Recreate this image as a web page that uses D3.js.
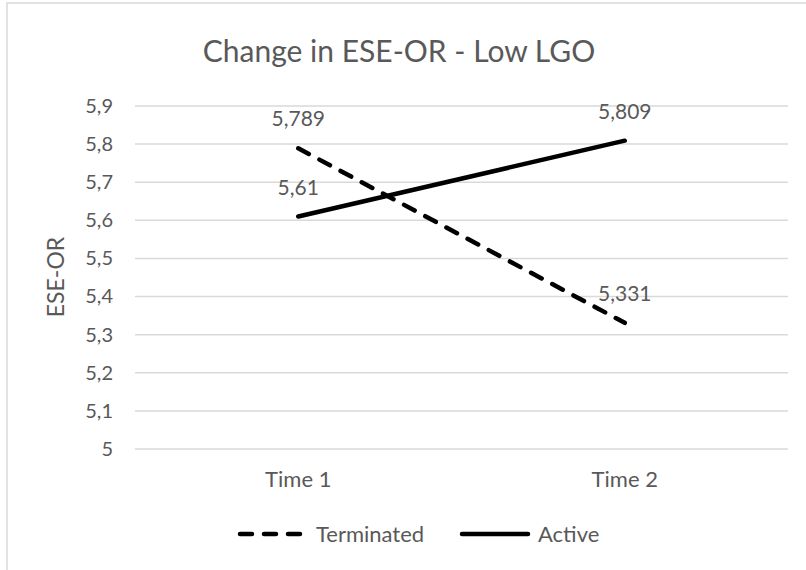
<!DOCTYPE html>
<html>
<head>
<meta charset="utf-8">
<script src="https://cdn.jsdelivr.net/npm/d3@7"></script>
<style>
  body { margin: 0; background: #fff; }
  text { font-family: Lato, "Open Sans", sans-serif; fill: #595959; }
</style>
</head>
<body>
<div class="chart"></div>
<script>
// data
var times = ["Time 1", "Time 2"];
var terminated = [5.789, 5.331];
var active = [5.61, 5.809];
var yTicks = [5, 5.1, 5.2, 5.3, 5.4, 5.5, 5.6, 5.7, 5.8, 5.9];
var seriesNames = ["Terminated", "Active"];

var width = 806,
    height = 570;

var svg = d3.select(".chart").append("svg")
  .attr("width", width)
  .attr("height", height);

// chart frame
svg.append("rect")
  .attr("x", 7).attr("y", 3)
  .attr("width", 820).attr("height", 600)
  .style("fill", "none")
  .style("stroke", "#d9d9d9")
  .style("stroke-width", 1.5);

var x = d3.scaleBand().domain(times).range([135, 788]);
var y = d3.scaleLinear().domain([5, 5.9]).range([449, 106]);

var fmt = function(v) { return String(v).replace(".", ","); };

// gridlines
svg.selectAll(".grid")
  .data(yTicks)
  .enter().append("line")
  .attr("x1", 135).attr("x2", 788)
  .attr("y1", function(d) { return y(d); })
  .attr("y2", function(d) { return y(d); })
  .style("stroke", "#d9d9d9")
  .style("stroke-width", 1.5);

var yAxis = svg.append("g")
  .attr("transform", "translate(135,0)")
  .call(d3.axisLeft(y).tickValues(yTicks).tickSize(0).tickPadding(22).tickFormat(fmt));
yAxis.select(".domain").remove();
yAxis.selectAll("text").style("font-size", "20px").style("fill", "#595959")
  .style("font-family", "Lato, 'Open Sans', sans-serif");

var xAxis = svg.append("g")
  .attr("transform", "translate(0,449)")
  .call(d3.axisBottom(x).tickSize(0).tickPadding(22));
xAxis.select(".domain").remove();
xAxis.selectAll("text").style("font-size", "22px").style("fill", "#595959")
  .style("font-family", "Lato, 'Open Sans', sans-serif");

// title
svg.append("text")
  .attr("x", 399).attr("y", 62)
  .attr("text-anchor", "middle")
  .style("font-size", "30px")
  .text("Change in ESE-OR - Low LGO");

// y axis title
svg.append("text")
  .attr("transform", "translate(64,277) rotate(-90)")
  .attr("text-anchor", "middle")
  .style("font-size", "23px")
  .text("ESE-OR");

var line = d3.line()
  .x(function(d, i) { return x(times[i]) + x.bandwidth() / 2; })
  .y(function(d) { return y(d); });

var series = [
  { name: seriesNames[0], values: terminated, dash: "12 12" },
  { name: seriesNames[1], values: active, dash: null }
];

series.forEach(function(s) {
  svg.append("path")
    .datum(s.values)
    .attr("d", line)
    .style("fill", "none")
    .style("stroke", "#000")
    .style("stroke-width", 4.5)
    .style("stroke-linecap", "round")
    .style("stroke-dasharray", s.dash);

  svg.selectAll(null)
    .data(s.values)
    .enter().append("text")
    .attr("x", function(d, i) { return x(times[i]) + x.bandwidth() / 2; })
    .attr("y", function(d) { return y(d) - 22; })
    .attr("text-anchor", "middle")
    .style("font-size", "21px")
    .text(fmt);
});

// legend
var legend = svg.append("g");
var legendItems = [
  { name: seriesNames[0], x0: 240, dash: "12 12" },
  { name: seriesNames[1], x0: 462, dash: null }
];
legendItems.forEach(function(l) {
  legend.append("line")
    .attr("x1", l.x0).attr("x2", l.x0 + 66)
    .attr("y1", 534).attr("y2", 534)
    .style("stroke", "#000")
    .style("stroke-width", 4.5)
    .style("stroke-linecap", "round")
    .style("stroke-dasharray", l.dash);
  legend.append("text")
    .attr("x", l.x0 + 76).attr("y", 542)
    .style("font-size", "22px")
    .text(l.name);
});
</script>
</body>
</html>
